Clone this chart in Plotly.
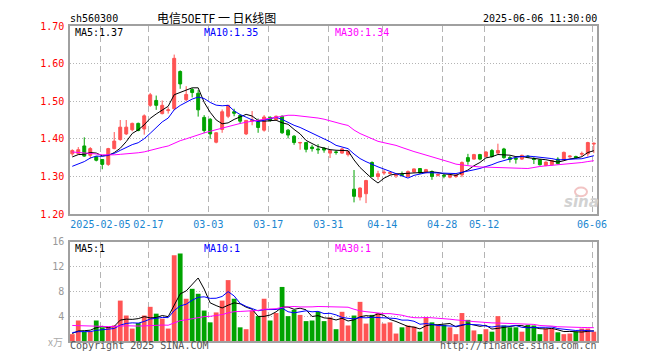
import pandas as pd
import plotly.graph_objects as go

# ---------------- data ----------------
holidays = ["2025-01-28", "2025-01-29", "2025-01-30", "2025-01-31", "2025-02-03",
            "2025-02-04", "2025-04-04", "2025-05-01", "2025-05-02", "2025-05-05", "2025-06-02"]
dates = [d.strftime("%Y-%m-%d") for d in pd.bdate_range("2025-01-21", "2025-06-06")
         if d.strftime("%Y-%m-%d") not in holidays]

opens = [1.360, 1.361, 1.381, 1.356, 1.352, 1.345, 1.332, 1.374, 1.398, 1.413,
         1.424, 1.441, 1.426, 1.489, 1.502, 1.467, 1.475, 1.480, 1.579, 1.504,
         1.531, 1.521, 1.457, 1.452, 1.391, 1.425, 1.460, 1.472, 1.462, 1.413,
         1.447, 1.445, 1.423, 1.457, 1.451, 1.460, 1.423, 1.407, 1.389, 1.390,
         1.378, 1.373, 1.375, 1.362, 1.365, 1.362, 1.358, 1.266, 1.245, 1.254,
         1.337, 1.300, 1.309, 1.308, 1.302, 1.305, 1.300, 1.312, 1.321, 1.311,
         1.313, 1.303, 1.303, 1.298, 1.300, 1.304, 1.350, 1.346, 1.358, 1.353,
         1.369, 1.362, 1.373, 1.350, 1.348, 1.346, 1.354, 1.347, 1.344, 1.329,
         1.331, 1.346, 1.344, 1.352, 1.353, 1.359, 1.360, 1.386]
highs = [1.372, 1.378, 1.404, 1.378, 1.353, 1.346, 1.376, 1.418, 1.450, 1.450,
         1.443, 1.443, 1.465, 1.522, 1.515, 1.502, 1.484, 1.624, 1.582, 1.540,
         1.535, 1.530, 1.463, 1.455, 1.418, 1.478, 1.490, 1.480, 1.465, 1.450,
         1.474, 1.454, 1.463, 1.460, 1.462, 1.462, 1.426, 1.410, 1.392, 1.391,
         1.384, 1.386, 1.378, 1.371, 1.369, 1.376, 1.369, 1.317, 1.271, 1.291,
         1.340, 1.315, 1.318, 1.312, 1.307, 1.313, 1.316, 1.321, 1.322, 1.320,
         1.316, 1.308, 1.307, 1.305, 1.306, 1.340, 1.360, 1.360, 1.360, 1.367,
         1.373, 1.387, 1.376, 1.355, 1.353, 1.358, 1.357, 1.351, 1.346, 1.340,
         1.344, 1.351, 1.366, 1.356, 1.355, 1.366, 1.392, 1.390]
lows = [1.355, 1.358, 1.352, 1.347, 1.340, 1.319, 1.328, 1.372, 1.395, 1.410,
        1.420, 1.420, 1.411, 1.485, 1.477, 1.465, 1.467, 1.476, 1.533, 1.500,
        1.510, 1.459, 1.415, 1.400, 1.388, 1.416, 1.455, 1.460, 1.440, 1.410,
        1.436, 1.416, 1.419, 1.445, 1.448, 1.413, 1.401, 1.384, 1.371, 1.364,
        1.366, 1.360, 1.363, 1.349, 1.358, 1.360, 1.353, 1.231, 1.236, 1.229,
        1.298, 1.291, 1.304, 1.305, 1.296, 1.300, 1.298, 1.310, 1.307, 1.308,
        1.291, 1.300, 1.295, 1.295, 1.296, 1.298, 1.331, 1.345, 1.343, 1.350,
        1.350, 1.358, 1.347, 1.337, 1.334, 1.344, 1.349, 1.333, 1.329, 1.327,
        1.329, 1.332, 1.342, 1.350, 1.347, 1.353, 1.353, 1.362]
closes = [1.369, 1.371, 1.354, 1.374, 1.343, 1.332, 1.374, 1.394, 1.431, 1.431,
          1.441, 1.422, 1.461, 1.517, 1.489, 1.489, 1.477, 1.614, 1.546, 1.518,
          1.523, 1.477, 1.422, 1.413, 1.416, 1.472, 1.489, 1.468, 1.447, 1.449,
          1.450, 1.430, 1.458, 1.449, 1.460, 1.416, 1.410, 1.390, 1.390, 1.372,
          1.374, 1.371, 1.370, 1.369, 1.364, 1.373, 1.366, 1.247, 1.269, 1.289,
          1.300, 1.307, 1.311, 1.310, 1.306, 1.303, 1.313, 1.320, 1.309, 1.318,
          1.300, 1.305, 1.301, 1.303, 1.304, 1.337, 1.340, 1.358, 1.346, 1.365,
          1.353, 1.369, 1.350, 1.345, 1.346, 1.356, 1.352, 1.345, 1.331, 1.338,
          1.342, 1.334, 1.364, 1.354, 1.349, 1.361, 1.390, 1.388]
volumes = [1.1, 3.3, 1.5, 1.5, 3.3, 2.2, 2.3, 2.5, 6.5, 4.1,
           2.0, 2.9, 4.1, 5.5, 4.4, 3.6, 2.0, 13.8, 14.1, 6.8,
           8.4, 7.6, 4.9, 3.0, 4.6, 6.5, 9.8, 6.8, 2.2, 1.9,
           4.9, 4.0, 6.8, 3.3, 4.5, 8.7, 4.0, 5.0, 4.2, 3.2,
           3.3, 4.7, 3.2, 3.8, 1.9, 4.7, 2.5, 4.1, 6.3, 2.8,
           4.2, 4.5, 2.8, 3.0, 1.2, 2.2, 2.5, 2.3, 1.5, 3.8,
           3.0, 2.5, 2.6, 2.2, 1.1, 4.5, 3.4, 1.7, 1.1, 1.9,
           1.5, 4.0, 2.5, 2.2, 2.2, 1.5, 2.6, 2.5, 1.1, 2.0,
           2.0, 1.4, 1.1, 1.2, 1.5, 2.0, 2.0, 1.5]

# sessions before the visible window (only feed the moving averages at the left edge)
pre_closes = [1.40, 1.41, 1.40, 1.39, 1.40, 1.39, 1.38, 1.39, 1.40, 1.39,
              1.38, 1.39, 1.38, 1.37, 1.38, 1.37, 1.38, 1.36, 1.37, 1.35,
              1.30, 1.30, 1.28, 1.29, 1.34, 1.34, 1.35, 1.35, 1.35]
pre_volumes = [3.5, 2.8, 4.2, 3.0, 2.6, 3.8, 2.9, 3.3, 2.5, 3.6,
               2.7, 3.4, 3.1, 2.4, 3.9, 2.8, 3.2, 2.6, 2.9, 2.3,
               1.8, 1.4, 1.5, 1.3, 1.5, 1.2, 1.3, 1.1, 1.3]

tick_dates = ["2025-02-05", "2025-02-17", "2025-03-03", "2025-03-17", "2025-03-31",
              "2025-04-14", "2025-04-28", "2025-05-12", "2025-06-06"]
tick_text = ["2025-02-05", "02-17", "03-03", "03-17", "03-31", "04-14", "04-28", "05-12", "06-06"]
price_ticks = [1.20, 1.30, 1.40, 1.50, 1.60, 1.70]
vol_ticks = [4, 8, 12, 16]
price_legend = ["MA5:1.37", "MA10:1.35", "MA30:1.34"]
vol_legend = ["MA5:1", "MA10:1", "MA30:1"]

# ---------------- derived ----------------
n = len(dates)
xs = list(range(n))
cl_all = pd.Series(pre_closes + closes)
vo_all = pd.Series(pre_volumes + volumes)
k = len(pre_closes)
periods = (5, 10, 30)
ma = {p: cl_all.rolling(p).mean().tolist()[k:] for p in periods}
vma = {p: vo_all.rolling(p).mean().tolist()[k:] for p in periods}

RED = "#ff5454"
GREEN = "#00a300"
MA_COL = {5: "#000000", 10: "#0000ff", 30: "#ff00ff"}
FONT = "DejaVu Sans Mono"
GRID = "#b4b4b4"
FRAME = "#a0a0a0"

tickvals = [dates.index(d) - 0.3 for d in tick_dates]
xrange = [-0.38, 87.53]

fig = go.Figure()
fig.add_trace(go.Candlestick(
    x=xs, open=opens, high=highs, low=lows, close=closes,
    increasing=dict(line=dict(color=RED, width=1), fillcolor=RED),
    decreasing=dict(line=dict(color=GREEN, width=1), fillcolor=GREEN),
    whiskerwidth=0, xaxis="x", yaxis="y", hoverinfo="skip"))
for p in periods:
    fig.add_trace(go.Scatter(x=xs, y=ma[p], mode="lines",
                             line=dict(color=MA_COL[p], width=1),
                             xaxis="x", yaxis="y", hoverinfo="skip"))

vcolors = [RED if c >= o else GREEN for o, c in zip(opens, closes)]
fig.add_trace(go.Bar(x=xs, y=volumes, marker=dict(color=vcolors, line=dict(width=0)),
                     width=0.8, xaxis="x2", yaxis="y2", hoverinfo="skip"))
for p in periods:
    fig.add_trace(go.Scatter(x=xs, y=vma[p], mode="lines",
                             line=dict(color=MA_COL[p], width=1),
                             xaxis="x2", yaxis="y2", hoverinfo="skip"))

# The page body has an 8px margin, so the figure sits at (8, 8) in the window.
OFF = 8
W, H = 660 - OFF, 360 - OFF
L, T = 70 - OFF, 21 - OFF
R, B = W - (597 - OFF), H - (341 - OFF)
PW, PH = W - L - R, H - T - B


def px(xp):  # window pixel -> paper
    return (xp - OFF - L) / PW


def py(yp):
    return (H - B - (yp - OFF)) / PH


axis_common = dict(showline=True, linecolor=FRAME, linewidth=1.5, mirror=True,
                   zeroline=False, ticks="", ticklen=0)

fig.update_layout(
    width=W, height=H, margin=dict(l=L, r=R, t=T, b=B),
    plot_bgcolor="white", paper_bgcolor="white", showlegend=False,
    font=dict(family=FONT, size=10, color="#000000"),
    xaxis=dict(domain=[0, 1], anchor="y", range=xrange, tickvals=tickvals, ticktext=tick_text,
               tickfont=dict(color="#1a86d0", size=10, family=FONT),
               showgrid=True, gridcolor=GRID, griddash="6px,4px", gridwidth=1,
               rangeslider=dict(visible=False), ticklabelstandoff=0, **axis_common),
    yaxis=dict(domain=[py(212), 1], anchor="x", range=[1.20, 1.70], tickvals=price_ticks,
               ticktext=[f"{v:.2f}" for v in price_ticks],
               tickfont=dict(color="#ff0000", size=10, family=FONT),
               showgrid=True, gridcolor=GRID, griddash="1px,2px", gridwidth=1,
               ticklabelstandoff=2, **axis_common),
    xaxis2=dict(domain=[0, 1], anchor="y2", range=xrange, tickvals=tickvals,
                showticklabels=False, showgrid=True, gridcolor=GRID, griddash="6px,4px",
                gridwidth=1, **axis_common),
    yaxis2=dict(domain=[0, py(240)], anchor="x2", range=[0, 16], tickvals=vol_ticks,
                ticktext=[str(v) for v in vol_ticks],
                tickfont=dict(color="#999999", size=10, family=FONT),
                showgrid=True, gridcolor=GRID, griddash="1px,2px", gridwidth=1,
                ticklabelstandoff=2, **axis_common),
)


def txt(s, xp, yp, color="#000000", anchor="left", size=10, family=FONT):
    fig.add_annotation(text=s, x=px(xp), y=py(yp), xref="paper", yref="paper",
                       xanchor=anchor, yanchor="middle", showarrow=False, borderpad=0,
                       font=dict(color=color, size=size, family=family))


txt("sh560300", 69, 13)
txt("电信50ETF 一 日K线图", 216, 12, anchor="center", size=12,
    family="Noto Sans CJK SC")
txt("2025-06-06 11:30:00", 598, 13, anchor="right")
for s, xp, p in zip(price_legend, (74, 203, 334), periods):
    txt(s, xp, 27.5, MA_COL[p])
for s, xp, p in zip(vol_legend, (74, 203, 334), periods):
    txt(s, xp, 247, MA_COL[p])
txt("x万", 64, 341, "#aaaaaa", anchor="right", size=10, family="Noto Sans CJK SC")
txt("Copyright 2025 SINA.COM", 69, 346, "#555555")
txt("http://finance.sina.com.cn", 598, 346, "#555555", anchor="right")
# faint sina watermark: eye-shaped logo + word
fig.add_shape(type="circle", xref="paper", yref="paper",
              x0=px(575), x1=px(587), y0=py(194), y1=py(185),
              line=dict(color="#f2c4c4", width=2), fillcolor="rgba(0,0,0,0)")
txt("<b><i>sina</i></b>", 581, 200, "#d2d2d2", anchor="center", size=15, family="DejaVu Sans")

fig.write_html("out.html")
